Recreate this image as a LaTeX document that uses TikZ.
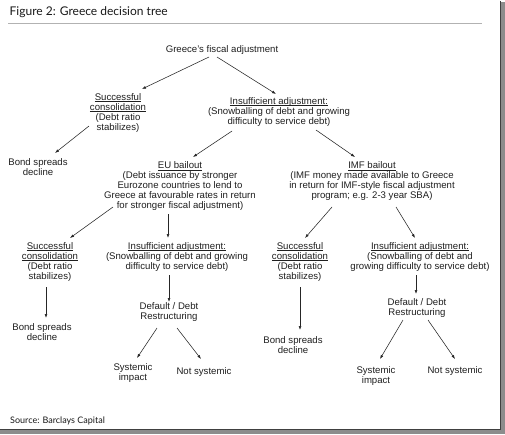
\documentclass[tikz,border=0pt]{standalone}
\usepackage{fontspec}
\setmainfont{Liberation Sans}
\newfontfamily\titlefont{Lato}
\usetikzlibrary{arrows.meta,calc}
\newcommand\uln[1]{\setbox0\hbox{#1}\rlap{\rule[-1.3pt]{\wd0}{0.45pt}}\box0}
\begin{document}
\begin{tikzpicture}[x=1pt,y=-1pt,
  txt/.style={align=center,inner sep=0pt,text=black!88,font=\fontsize{9.6}{10}\selectfont},
  arr/.style={-{Latex[length=4pt,width=2.8pt]},line width=0.55pt,draw=black!85}]
\useasboundingbox (0,0) rectangle (505,434);
% page and shadow
\fill[white] (0,0) rectangle (505,434);
\fill[black!45] (501,2) rectangle (505,434);
\fill[black!45] (0,430) rectangle (505,434);
\draw[black!75,line width=1.2pt] (500.5,1) -- (500.5,429.5) -- (0,429.5);
% title
\node[anchor=base west,inner sep=0pt,text=black!90,font=\titlefont\fontsize{12}{13}\selectfont] (title) at (9.5,15) {Figure 2: Greece decision tree};
\draw[black!30,line width=1pt] (8,23) -- (482,23);
% nodes
\node[txt] (root) at (222,50) {Greece's fiscal adjustment};
\node[txt] (sc1) at (118,113) {\uln{Successful}\\\uln{consolidation}\\(Debt ratio\\stabilizes)};
\node[txt] (ia1) at (279,112) {\uln{Insufficient adjustment:}\\(Snowballing of debt and growing\\difficulty to service debt)};
\node[txt] (bsd1) at (38,167.5) {Bond spreads\\decline};
\node[txt] (eu) at (180,186.5) {\uln{EU bailout}\\(Debt issuance by stronger\\Eurozone countries to lend to\\Greece at favourable rates in return\\for stronger fiscal adjustment)};
\node[txt] (imf) at (372,181.5) {\uln{IMF bailout}\\(IMF money made available to Greece\\in return for IMF-style fiscal adjustment\\program; e.g. 2-3 year SBA)};
\node[txt] (sc2) at (50,262) {\uln{Successful}\\\uln{consolidation}\\(Debt ratio\\stabilizes)};
\node[txt] (ia2) at (177,257) {\uln{Insufficient adjustment:}\\(Snowballing of debt and growing\\difficulty to service debt)};
\node[txt] (sc3) at (300,262) {\uln{Successful}\\\uln{consolidation}\\(Debt ratio\\stabilizes)};
\node[txt] (ia3) at (420,257) {\uln{Insufficient adjustment:}\\(Snowballing of debt and\\growing difficulty to service debt)};
\node[txt] (bsd2) at (42,332.5) {Bond spreads\\decline};
\node[txt] (dd1) at (169,312) {Default / Debt\\Restructuring};
\node[txt] (bsd3) at (293,345) {Bond spreads\\decline};
\node[txt] (dd2) at (417,308) {Default / Debt\\Restructuring};
\node[txt] (sys1) at (133,373) {Systemic\\impact};
\node[txt] (ns1) at (204,372) {Not systemic};
\node[txt] (sys2) at (376,376.5) {Systemic\\impact};
\node[txt] (ns2) at (455,371) {Not systemic};
\node[anchor=base west,inner sep=0pt,text=black!90,font=\titlefont\fontsize{9}{10}\selectfont] (src) at (10,423) {Source: Barclays Capital};
% connectors
\draw[arr] ($(root.center)+(-13,7)$) -- ($(sc1.center)+(24,-24)$);
\draw[arr] ($(root.center)+(-5,7)$) -- ($(ia1.center)+(-3,-18)$);
\draw[arr] ($(sc1.center)+(-29,13)$) -- ($(bsd1.center)+(17,-14.5)$);
\draw[arr] ($(ia1.center)+(-47,19)$) -- ($(eu.center)+(13,-29.5)$);
\draw[arr] ($(ia1.center)+(37,18)$) -- ($(imf.center)+(-17,-24.5)$);
\draw[arr] ($(eu.center)+(-67,20.5)$) -- ($(sc2.center)+(20,-24)$);
\draw[arr] ($(eu.center)+(-12,27.5)$) -- ($(ia2.center)+(-9,-19)$);
\draw[arr] ($(imf.center)+(-40,25.5)$) -- ($(sc3.center)+(5,-24)$);
\draw[arr] ($(imf.center)+(24,25.5)$) -- ($(ia3.center)+(-5,-19)$);
\draw[arr] ($(sc2.center)+(-4,25)$) -- ($(bsd2.center)+(4,-14.5)$);
\draw[arr] ($(ia2.center)+(-8,18)$) -- ($(dd1.center)+(0,-10)$);
\draw[arr] ($(sc3.center)+(0,25)$) -- ($(bsd3.center)+(7,-15)$);
\draw[arr] ($(ia3.center)+(-4,18)$) -- ($(dd2.center)+(-1,-14)$);
\draw[arr] ($(dd1.center)+(-12,16)$) -- ($(sys1.center)+(4,-15)$);
\draw[arr] ($(dd1.center)+(8,16)$) -- ($(ns1.center)+(-3,-13)$);
\draw[arr] ($(dd2.center)+(-14,12)$) -- ($(sys2.center)+(4,-17.5)$);
\draw[arr] ($(dd2.center)+(11,12)$) -- ($(ns2.center)+(0,-12)$);
\end{tikzpicture}
\end{document}
